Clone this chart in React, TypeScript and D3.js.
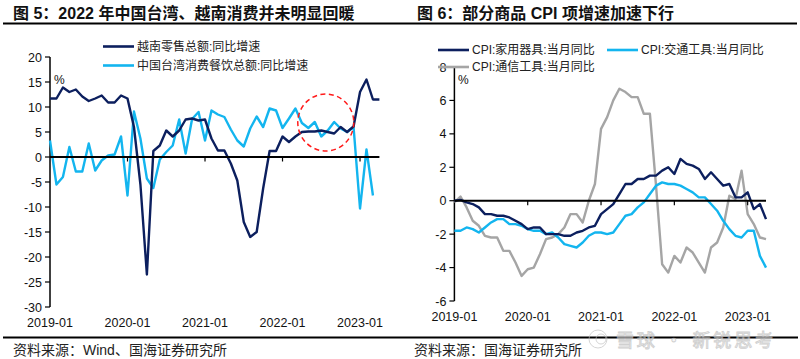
import React from 'react';
import * as d3 from 'd3';

// ---------- data ----------
const months: string[] = d3
  .timeMonth.range(new Date(2019, 0, 1), new Date(2023, 4, 1))
  .map(d3.timeFormat('%Y-%m'));
const yearTicks = ['2019-01', '2020-01', '2021-01', '2022-01', '2023-01'];

// Figure 5
const vnRetail = [
  11.7, 11.7, 13.9, 13.0, 13.5, 12.1, 11.2, 11.7, 12.3, 10.9, 10.9, 12.3,
  11.7, 6.0, -5.5, -23.5, 1.2, 2.3, 5.3, 4.1, 5.3, 7.5, 7.7, 7.3,
  7.5, 3.7, 1.3, 1.3, -1.3, -4.7, -13.0, -16.0, -15.0, -6.3, 1.2, 1.2,
  4.1, 3.0, 4.1, 5.0, 5.1, 5.1, 5.3, 5.0, 4.7, 6.0, 5.0, 6.1,
  13.0, 15.5, 11.5, 11.5,
];
const twFood = [
  3.3, -5.5, -4.0, 2.0, -2.9, -2.9, 2.7, -2.7, -0.7, 0.3, 0.5, 4.1,
  -7.7, 9.1, 3.7, -4.3, -6.2, -0.5, 1.0, 2.3, 7.5, 0.7, 7.6, 9.0,
  3.3, 9.3, 8.5, 8.0, 5.5, 3.3, 2.1, 5.7, 8.1, 6.0, 9.7, 9.3,
  5.8, 7.7, 9.7, 6.8, 5.8, 7.0, 4.1, 5.3, 7.0, 5.7, 5.0, 6.0,
  -10.3, 1.5, -7.7,
];
const leftYTicks = [20, 15, 10, 5, 0, -5, -10, -15, -20, -25, -30];
const highlight = [42.7, 6.9]; // month index, value

// Figure 6
const cpiAppliance = [
  0.0, 0.05, -0.1, -0.2, -0.4, -0.8, -0.8, -0.9, -0.9, -1.0, -1.2, -1.4,
  -1.7, -1.6, -1.6, -2.0, -2.0, -2.0, -2.1, -2.1, -1.9, -1.8, -1.6, -1.5,
  -0.8, -0.5, -0.2, 0.4, 1.0, 1.0, 1.3, 1.3, 1.5, 1.5, 1.8, 2.0,
  1.6, 2.5, 2.2, 2.1, 1.9, 1.3, 1.7, 1.3, 0.9, 1.0, 0.2, 0.2,
  0.5, -0.5, -0.2, -1.1,
];
const cpiTransport = [
  -1.8, -1.8, -1.6, -1.7, -1.9, -1.6, -1.3, -1.1, -1.1, -1.4, -1.4, -1.5,
  -1.7, -1.8, -1.8, -2.0, -1.9, -2.2, -2.6, -2.7, -2.8, -2.5, -2.1, -1.9,
  -1.9, -2.0, -1.9, -1.4, -0.9, -0.8, -0.4, -0.1, 0.4, 0.9, 1.1, 1.0,
  1.0, 0.9, 0.7, 0.5, 0.2, 0.2, -0.2, -0.6, -1.2, -1.7, -2.1, -2.2,
  -1.8, -1.8, -3.3, -4.0,
];
const cpiComm = [
  -0.1, 0.25, -0.4, -1.2, -1.5, -2.1, -2.2, -2.2, -3.0, -3.0, -3.7, -4.5,
  -4.1, -4.0, -3.2, -2.3, -2.2, -2.0, -1.6, -0.8, -0.8, -1.3, 0.0, 1.0,
  4.3, 5.0, 6.0, 6.7, 6.5, 6.2, 6.2, 5.2, 5.2, 0.9, -3.8, -4.3,
  -3.3, -3.7, -2.8, -3.1, -3.7, -4.3, -2.8, -2.5, -1.6, 0.3, 0.1, 1.8,
  -0.8, -1.4, -2.2, -2.3,
];
const rightYTicks = [8, 6, 4, 2, 0, -2, -4, -6];

const NAVY = '#0c1f5e';
const LIGHT = '#13b5ef';
const GRAY = '#a5a5a5';

const FONT = '"Liberation Sans", Arial, "Noto Sans CJK SC", sans-serif';

type Series = { name: string; values: number[]; color: string };

interface PanelProps {
  xRange: [number, number];
  yDomain: [number, number];
  yRange: [number, number];
  yTicks: number[];
  series: Series[];
  labelBaseline: number;
  pct: [number, number];
  legend: { x: number; y: number; s: Series }[];
  children?: (x: d3.ScaleLinear<number, number>, y: d3.ScaleLinear<number, number>) => React.ReactNode;
}

function Panel({ xRange, yDomain, yRange, yTicks, series, labelBaseline, pct, legend, children }: PanelProps) {
  const x = d3.scaleLinear().domain([0, months.length - 1]).range(xRange);
  const y = d3.scaleLinear().domain(yDomain).range(yRange);
  const line = (vals: number[]) =>
    d3.line<number>().x((_, i) => x(i)).y((v) => y(v))(vals) || '';
  const x0 = xRange[0];
  return (
    <g>
      {/* y axis */}
      <line x1={x0} x2={x0} y1={y(yDomain[1])} y2={y(yDomain[0])} stroke="#000" strokeWidth={1.5} />
      {yTicks.map((t) => (
        <g key={t}>
          <line x1={x0 - 5} x2={x0} y1={y(t)} y2={y(t)} stroke="#000" strokeWidth={1.2} />
          <text x={x0 - 8} y={y(t)} dy="0.36em" textAnchor="end" fontSize={12.5} fill="#111">
            {t}
          </text>
        </g>
      ))}
      <text x={pct[0]} y={pct[1]} fontSize={12} fill="#111">%</text>
      {/* series */}
      {series.map((s) => (
        <path key={s.name} d={line(s.values)} fill="none" stroke={s.color} strokeWidth={2.4} strokeLinejoin="round" />
      ))}
      {/* zero line */}
      <line x1={x0} x2={xRange[1]} y1={y(0)} y2={y(0)} stroke="#000" strokeWidth={2} />
      {yearTicks.map((t) => {
        const i = months.indexOf(t);
        return (
          <g key={t}>
            {i > 0 && <line x1={x(i)} x2={x(i)} y1={y(0)} y2={y(0) + 4.5} stroke="#000" strokeWidth={1.2} />}
            <text x={x(i)} y={labelBaseline} textAnchor="middle" fontSize={12.5} fill="#111">
              {t}
            </text>
          </g>
        );
      })}
      {children && children(x, y)}
      {/* legend */}
      {legend.map((l) => (
        <g key={l.s.name}>
          <line x1={l.x} x2={l.x + 31} y1={l.y} y2={l.y} stroke={l.s.color} strokeWidth={2.6} />
          <text x={l.x + 34} y={l.y} dy="0.36em" fontSize={12} fill="#222">
            {l.s.name}
          </text>
        </g>
      ))}
    </g>
  );
}

export default function App() {
  const vn: Series = { name: '越南零售总额:同比增速', values: vnRetail, color: NAVY };
  const tw: Series = { name: '中国台湾消费餐饮总额:同比增速', values: twFood, color: LIGHT };
  const ap: Series = { name: 'CPI:家用器具:当月同比', values: cpiAppliance, color: NAVY };
  const tr: Series = { name: 'CPI:交通工具:当月同比', values: cpiTransport, color: LIGHT };
  const cm: Series = { name: 'CPI:通信工具:当月同比', values: cpiComm, color: GRAY };

  return (
    <svg
      width={800}
      height={359}
      style={{ position: 'absolute', left: 0, top: 0, background: '#fff' }}
      fontFamily={FONT}
    >
      <rect width={800} height={359} fill="#fff" />
      {/* titles */}
      <text x={13} y={19} fontSize={16} fontWeight="bold" fill="#111">
        图 5：2022 年中国台湾、越南消费并未明显回暖
      </text>
      <text x={417} y={19} fontSize={16} fontWeight="bold" fill="#111">
        图 6：部分商品 CPI 项增速加速下行
      </text>
      <line x1={3} x2={797} y1={23.5} y2={23.5} stroke="#000" strokeWidth={2} />

      <Panel
        xRange={[50, 379.4]}
        yDomain={[-30, 20]}
        yRange={[307, 57]}
        yTicks={leftYTicks}
        series={[tw, vn]}
        labelBaseline={327}
        pct={[54, 84]}
        legend={[
          { x: 103, y: 46.5, s: vn },
          { x: 103, y: 65.5, s: tw },
        ]}
      >
        {(x, y) => (
          <ellipse
            cx={x(highlight[0])}
            cy={y(highlight[1])}
            rx={28}
            ry={28.5}
            fill="none"
            stroke="#ff1a1a"
            strokeWidth={1.5}
            strokeDasharray="5,3.5"
          />
        )}
      </Panel>

      <Panel
        xRange={[454.4, 766]}
        yDomain={[-6, 8]}
        yRange={[301, 67]}
        yTicks={rightYTicks}
        series={[cm, tr, ap]}
        labelBaseline={321}
        pct={[458, 84]}
        legend={[
          { x: 438, y: 50, s: ap },
          { x: 607, y: 50, s: tr },
          { x: 438, y: 67, s: cm },
        ]}
      />

      {/* bottom rule and sources */}
      <line x1={3} x2={798} y1={337.5} y2={337.5} stroke="#000" strokeWidth={2} />
      <text x={13} y={350} dy="0.36em" fontSize={14} fill="#222">资料来源：Wind、国海证券研究所</text>
      <text x={414} y={350} dy="0.36em" fontSize={14} fill="#222">资料来源：国海证券研究所</text>

      {/* watermark */}
      <g opacity={0.7} fill="#f4f4f4" stroke="#bdbdbd" strokeWidth={0.9}>
        <circle cx={598} cy={339} r={9} fill="none" />
        <circle cx={601} cy={339} r={5} fill="none" />
        <text
          x={616}
          y={341}
          dy="0.36em"
          fontSize={18}
          textLength={157}
          lengthAdjust="spacing"
          fontFamily='"Noto Sans CJK SC", sans-serif'
        >
          雪球 · 新锐思考
        </text>
      </g>
    </svg>
  );
}
